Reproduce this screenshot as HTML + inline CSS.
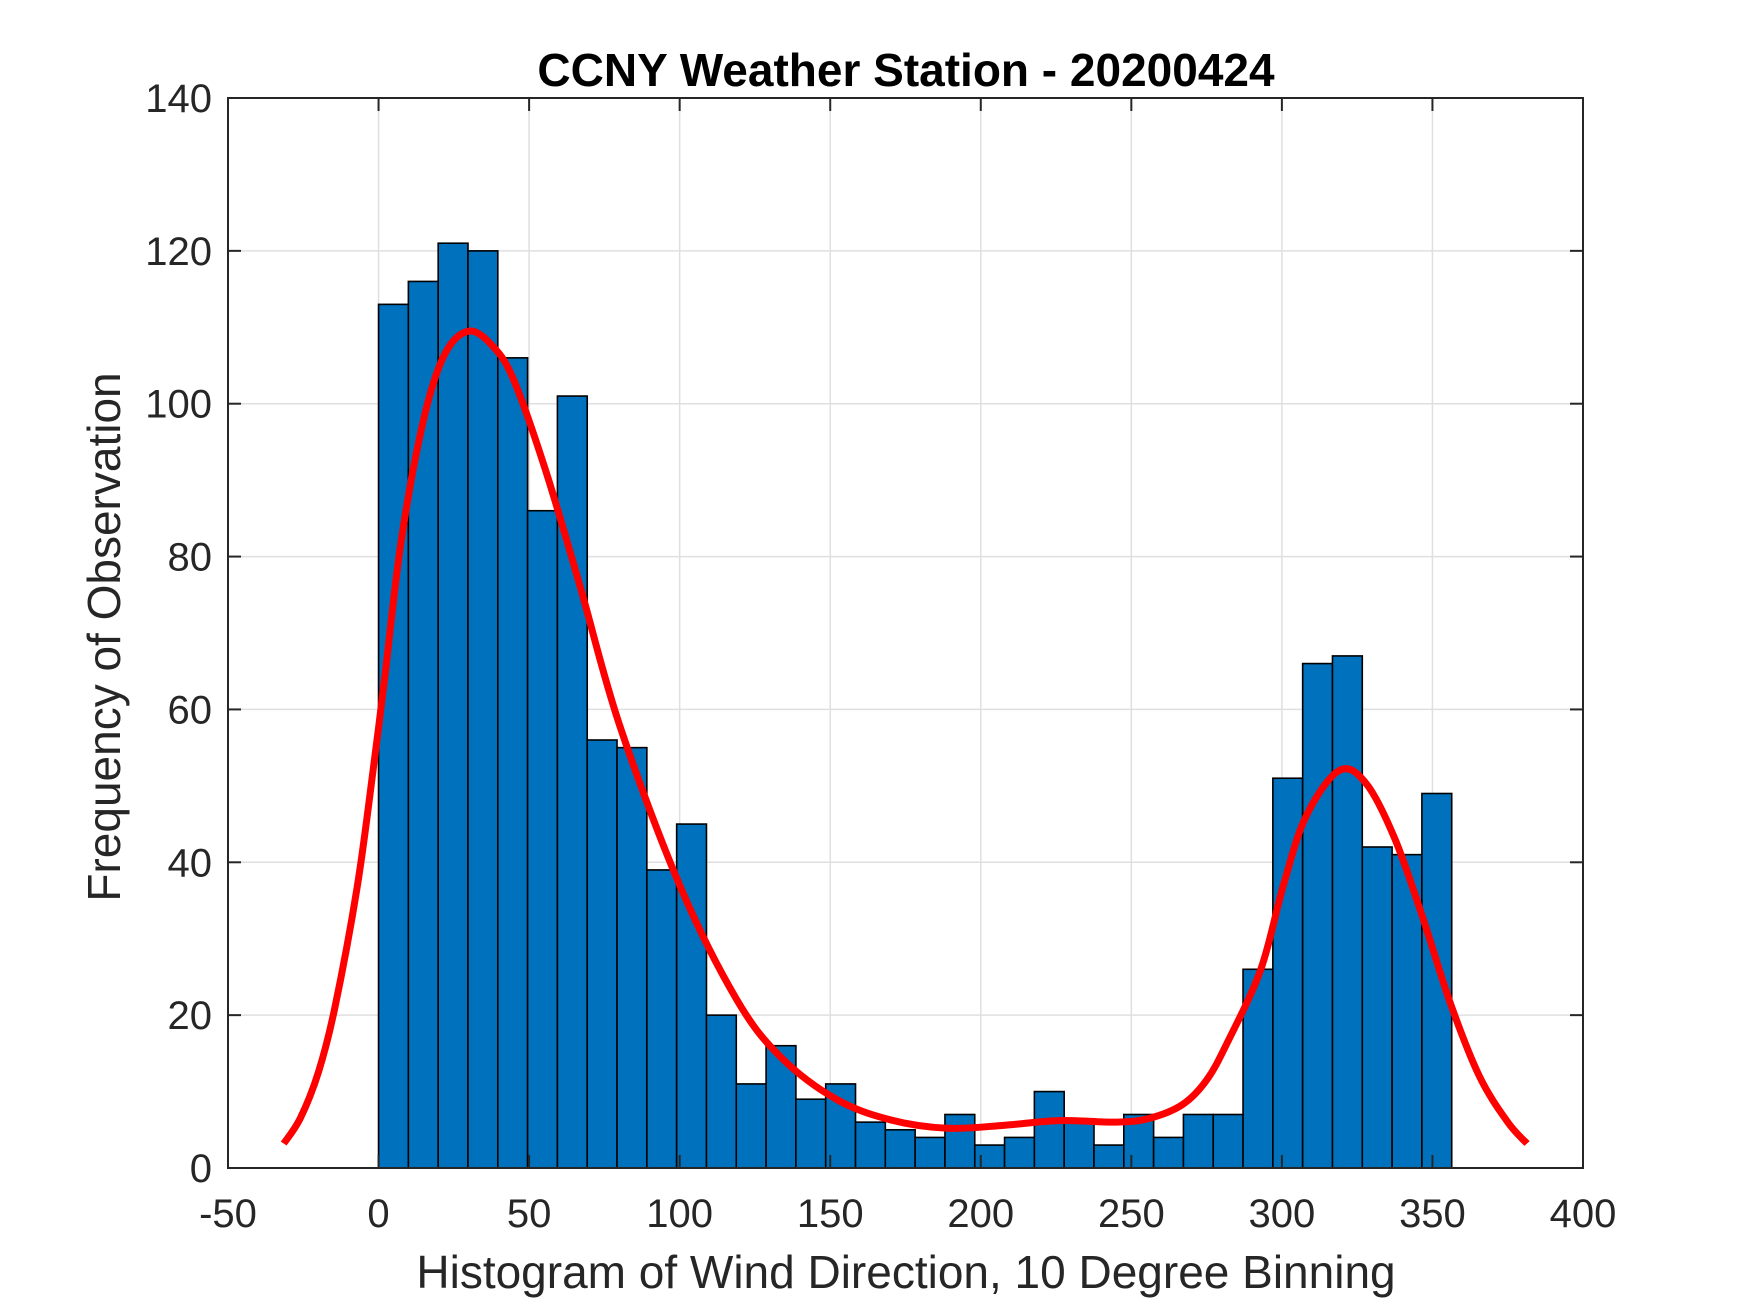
<!DOCTYPE html>
<html><head><meta charset="utf-8"><style>
html,body{margin:0;padding:0;background:#fff;}
svg{display:block;font-family:"Liberation Sans",Arial,sans-serif;}
</style></head><body>
<svg id="chart" width="1750" height="1313" viewBox="0 0 1750 1313">
<g id="grid"></g>
<g id="bars"></g>
<g id="curve"></g>
<g id="axes"></g>
<text x="906" y="86" text-anchor="middle" font-size="46" font-weight="bold" fill="#000">CCNY Weather Station - 20200424</text>
<text x="906" y="1288" text-anchor="middle" font-size="46" fill="#262626">Histogram of Wind Direction, 10 Degree Binning</text>
<text transform="translate(120,637) rotate(-90)" text-anchor="middle" font-size="46" fill="#262626">Frequency of Observation</text>
</svg>
<script>
const binStart = 0;
const binWidth = 9.9;
const counts = [113,116,121,120,106,86,101,56,55,39,45,20,11,16,9,11,6,5,4,7,3,4,10,6,3,7,4,7,7,26,51,66,67,42,41,49];
const curveX = [-31.5,-26,-20,-14.5,-7,-1.5,2,7.5,15,22,30,38,45,55.7,67,80,100,119,133.6,152,170,189,208,226,245,256,267,275,282,293,300.5,308,319,328,337.6,347,356,365.6,375,381.4];
const curveY = [3.2,6.5,12.5,21,37,53,64,82,98,106.5,109.5,107.5,103,91,76,58,37,22,14.5,9,6.3,5.2,5.6,6.2,6,6.5,8.3,11.5,16.5,26,37,46,52,50.3,43,32.5,21.5,12,6,3.2];
const xTicks = [-50,0,50,100,150,200,250,300,350,400];
const yTicks = [0,20,40,60,80,100,120,140];

const L=228,R=1583,T=98,B=1168;
const xMin=-50,xMax=400,yMin=0,yMax=140;
const X=v=>L+(v-xMin)/(xMax-xMin)*(R-L);
const Y=v=>B-(v-yMin)/(yMax-yMin)*(B-T);
const NS='http://www.w3.org/2000/svg';
function mk(tag,attrs,parent){const e=document.createElementNS(NS,tag);for(const k in attrs)e.setAttribute(k,attrs[k]);parent.appendChild(e);return e;}
const grid=document.getElementById('grid'),bars=document.getElementById('bars'),curve=document.getElementById('curve'),axes=document.getElementById('axes');

xTicks.forEach(t=>{
  const g=mk('line',{x1:X(t),x2:X(t),y1:T,y2:B,stroke:'#dfdfdf','stroke-width':1.5},grid);
  
  
});
yTicks.forEach(t=>{
  const g=mk('line',{x1:L,x2:R,y1:Y(t),y2:Y(t),stroke:'#dfdfdf','stroke-width':1.5},grid);
  
  
});

counts.forEach((c,i)=>{
  const x0=X(binStart+i*binWidth),x1=X(binStart+(i+1)*binWidth);
  const r=mk('rect',{x:x0,y:Y(c),width:x1-x0,height:Y(0)-Y(c),fill:'#0072bd',stroke:'#000','stroke-width':1.6},bars);
  
  
});

const pts=curveX.map((x,i)=>[X(x),Y(curveY[i])]);
let d='M'+pts[0][0]+','+pts[0][1];
for(let i=0;i<pts.length-1;i++){
  const p0=pts[Math.max(0,i-1)],p1=pts[i],p2=pts[i+1],p3=pts[Math.min(pts.length-1,i+2)];
  const c1=[p1[0]+(p2[0]-p0[0])/6,p1[1]+(p2[1]-p0[1])/6];
  const c2=[p2[0]-(p3[0]-p1[0])/6,p2[1]-(p3[1]-p1[1])/6];
  d+=' C'+c1[0]+','+c1[1]+' '+c2[0]+','+c2[1]+' '+p2[0]+','+p2[1];
}
const path=mk('path',{d:d,fill:'none',stroke:'#ff0000','stroke-width':7,'stroke-linejoin':'round'},curve);



const box=mk('rect',{x:L,y:T,width:R-L,height:B-T,fill:'none',stroke:'#262626','stroke-width':2},axes);


xTicks.forEach(t=>{
  mk('line',{x1:X(t),x2:X(t),y1:B,y2:B-13,stroke:'#262626','stroke-width':2},axes);
  mk('line',{x1:X(t),x2:X(t),y1:T,y2:T+13,stroke:'#262626','stroke-width':2},axes);
  const tx=mk('text',{x:X(t),y:1227,'text-anchor':'middle','font-size':40,fill:'#262626'},axes);
  tx.textContent=t;
  
  
});
yTicks.forEach(t=>{
  mk('line',{x1:L,x2:L+13,y1:Y(t),y2:Y(t),stroke:'#262626','stroke-width':2},axes);
  mk('line',{x1:R,x2:R-13,y1:Y(t),y2:Y(t),stroke:'#262626','stroke-width':2},axes);
  const tx=mk('text',{x:212,y:Y(t)+14,'text-anchor':'end','font-size':40,fill:'#262626'},axes);
  tx.textContent=t;
  
  
});
</script>
</body></html>
